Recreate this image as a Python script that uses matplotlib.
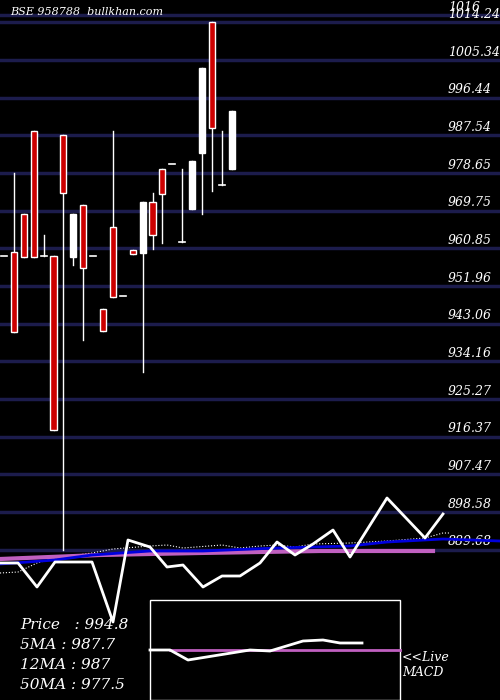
import matplotlib.pyplot as plt
from matplotlib.patches import Rectangle

# candles: open, high, low, close
opens  = [959, 960.0, 969.0, 988.6, 959.0, 959.0, 987.6, 958.8, 971.1, 959.0, 946.5, 965.9,
          949.6, 960.5, 959.7, 971.8, 979.6, 980.8, 962.3, 970.1, 983.4, 1014.3, 975.8, 979.6]
highs  = [959, 978.6, 969.0, 988.6, 964.0, 959.0, 987.6, 969.0, 971.1, 959.0, 946.5, 988.6,
          949.6, 960.5, 971.8, 973.9, 979.6, 980.8, 979.6, 981.5, 1003.4, 1014.3, 988.6, 993.3]
lows   = [959, 941.1, 958.8, 958.8, 959.0, 917.9, 889.6, 956.9, 939.2, 959.0, 941.3, 949.4,
          949.6, 959.5, 931.6, 960.7, 962.1, 980.8, 962.3, 970.1, 969.0, 974.4, 975.8, 979.6]
closes = [959, 941.1, 958.8, 958.8, 959.0, 917.9, 973.9, 969.0, 956.2, 959.0, 941.3, 949.4,
          949.6, 959.5, 971.8, 964.0, 973.7, 980.8, 962.3, 981.5, 1003.4, 989.3, 975.8, 993.3]
grid_levels = [1016, 1014.24, 1005.34, 996.44, 987.54, 978.65, 969.75, 960.85, 951.96,
               943.06, 934.16, 925.27, 916.37, 907.47, 898.58, 889.68]
grid_labels = ['1016', '1014.24', '1005.34', '996.44', '987.54', '978.65', '969.75', '960.85',
               '951.96', '943.06', '934.16', '925.27', '916.37', '907.47', '898.58', '889.68']

# lower indicator lines (screen units)
price_x = [0, 18, 37, 55, 92, 113, 128, 150, 167, 183, 203, 222, 240, 260, 277, 295, 313, 333, 350, 387, 425, 443]
price_y = [563, 563, 587, 562, 562, 622, 540, 547, 567, 565, 587, 576, 576, 563, 542, 555, 544, 530, 557, 498, 538, 514]
dot_x = [0, 18, 37, 55, 92, 113, 150, 167, 183, 222, 240, 260, 277, 295, 313, 350, 387, 425, 443, 450]
dot_y = [573, 572, 563, 558, 553, 549, 546, 545, 548, 545, 548, 546, 545, 547, 544, 543, 541, 538, 533, 533]
blue_x = [0, 55, 92, 150, 203, 277, 350, 387, 443, 500]
blue_y = [564, 560, 555, 551, 551, 548, 546, 542, 539, 541]
mag_x = [0, 100, 200, 320, 433]
mag_y = [559, 555, 553, 551, 551]
macd_x = [150, 170, 188, 250, 270, 303, 323, 340, 362]
macd_y = [650, 650, 660, 650, 651, 641, 640, 643, 643]

fig = plt.figure(figsize=(5, 7), dpi=100, facecolor='black')
ax = fig.add_axes([0, 0, 1, 1], facecolor='black')
ax.set_xlim(-4 / 9.9, 496 / 9.9)
ax.set_ylim(854.17, 1019.51)
ax.axis('off')

for g, lab in zip(grid_levels, grid_labels):
    ax.axhline(g, color='#1c1c4c', lw=2.5, zorder=1)
    ax.text(448 / 9.9 - 4 / 9.9, g + 0.3, lab, color='white', fontsize=9, family='DejaVu Serif',
            style='italic', va='bottom', zorder=5)

w = 0.62
for i, (o, h, l, c) in enumerate(zip(opens, highs, lows, closes)):
    ax.plot([i, i], [l, h], color='white', lw=1, zorder=2)
    if abs(o - c) < 0.3:
        ax.plot([i - w / 2, i + w / 2], [o, o], color='white', lw=1.2, zorder=3)
        continue
    col = '#cc0000' if c < o else 'white'
    ax.add_patch(Rectangle((i - w / 2, min(o, c)), w, abs(o - c), facecolor=col,
                           edgecolor='white', lw=1, zorder=3))

ov = fig.add_axes([0, 0, 1, 1], facecolor='none')
ov.set_xlim(0, 500)
ov.set_ylim(700, 0)
ov.axis('off')
ov.plot(dot_x, dot_y, color='white', lw=0.8, ls=':')
ov.plot(mag_x, mag_y, color='#c060c0', lw=3)
ov.plot(blue_x, blue_y, color='#0000dd', lw=2)
ov.plot(price_x, price_y, color='white', lw=2)

ov.add_patch(Rectangle((150, 600), 250, 100, facecolor='black', edgecolor='white', lw=1, zorder=4))
ov.plot([170, 400], [650, 650], color='#c060c0', lw=2, zorder=5)
ov.plot(macd_x, macd_y, color='white', lw=2, zorder=6)

ov.text(10, 12, 'BSE 958788  bullkhan.com', color='white', fontsize=8, family='DejaVu Serif', style='italic', va='center')
for k, s in enumerate(['Price   : 994.8', '5MA : 987.7', '12MA : 987', '50MA : 977.5']):
    ov.text(20, 625 + 20 * k, s, color='white', fontsize=11, family='DejaVu Serif', style='italic', va='center')
ov.text(402, 665, '<<Live\nMACD', color='white', fontsize=9, family='DejaVu Serif', style='italic', va='center')

fig.savefig('out.png', dpi=100, facecolor='black')
